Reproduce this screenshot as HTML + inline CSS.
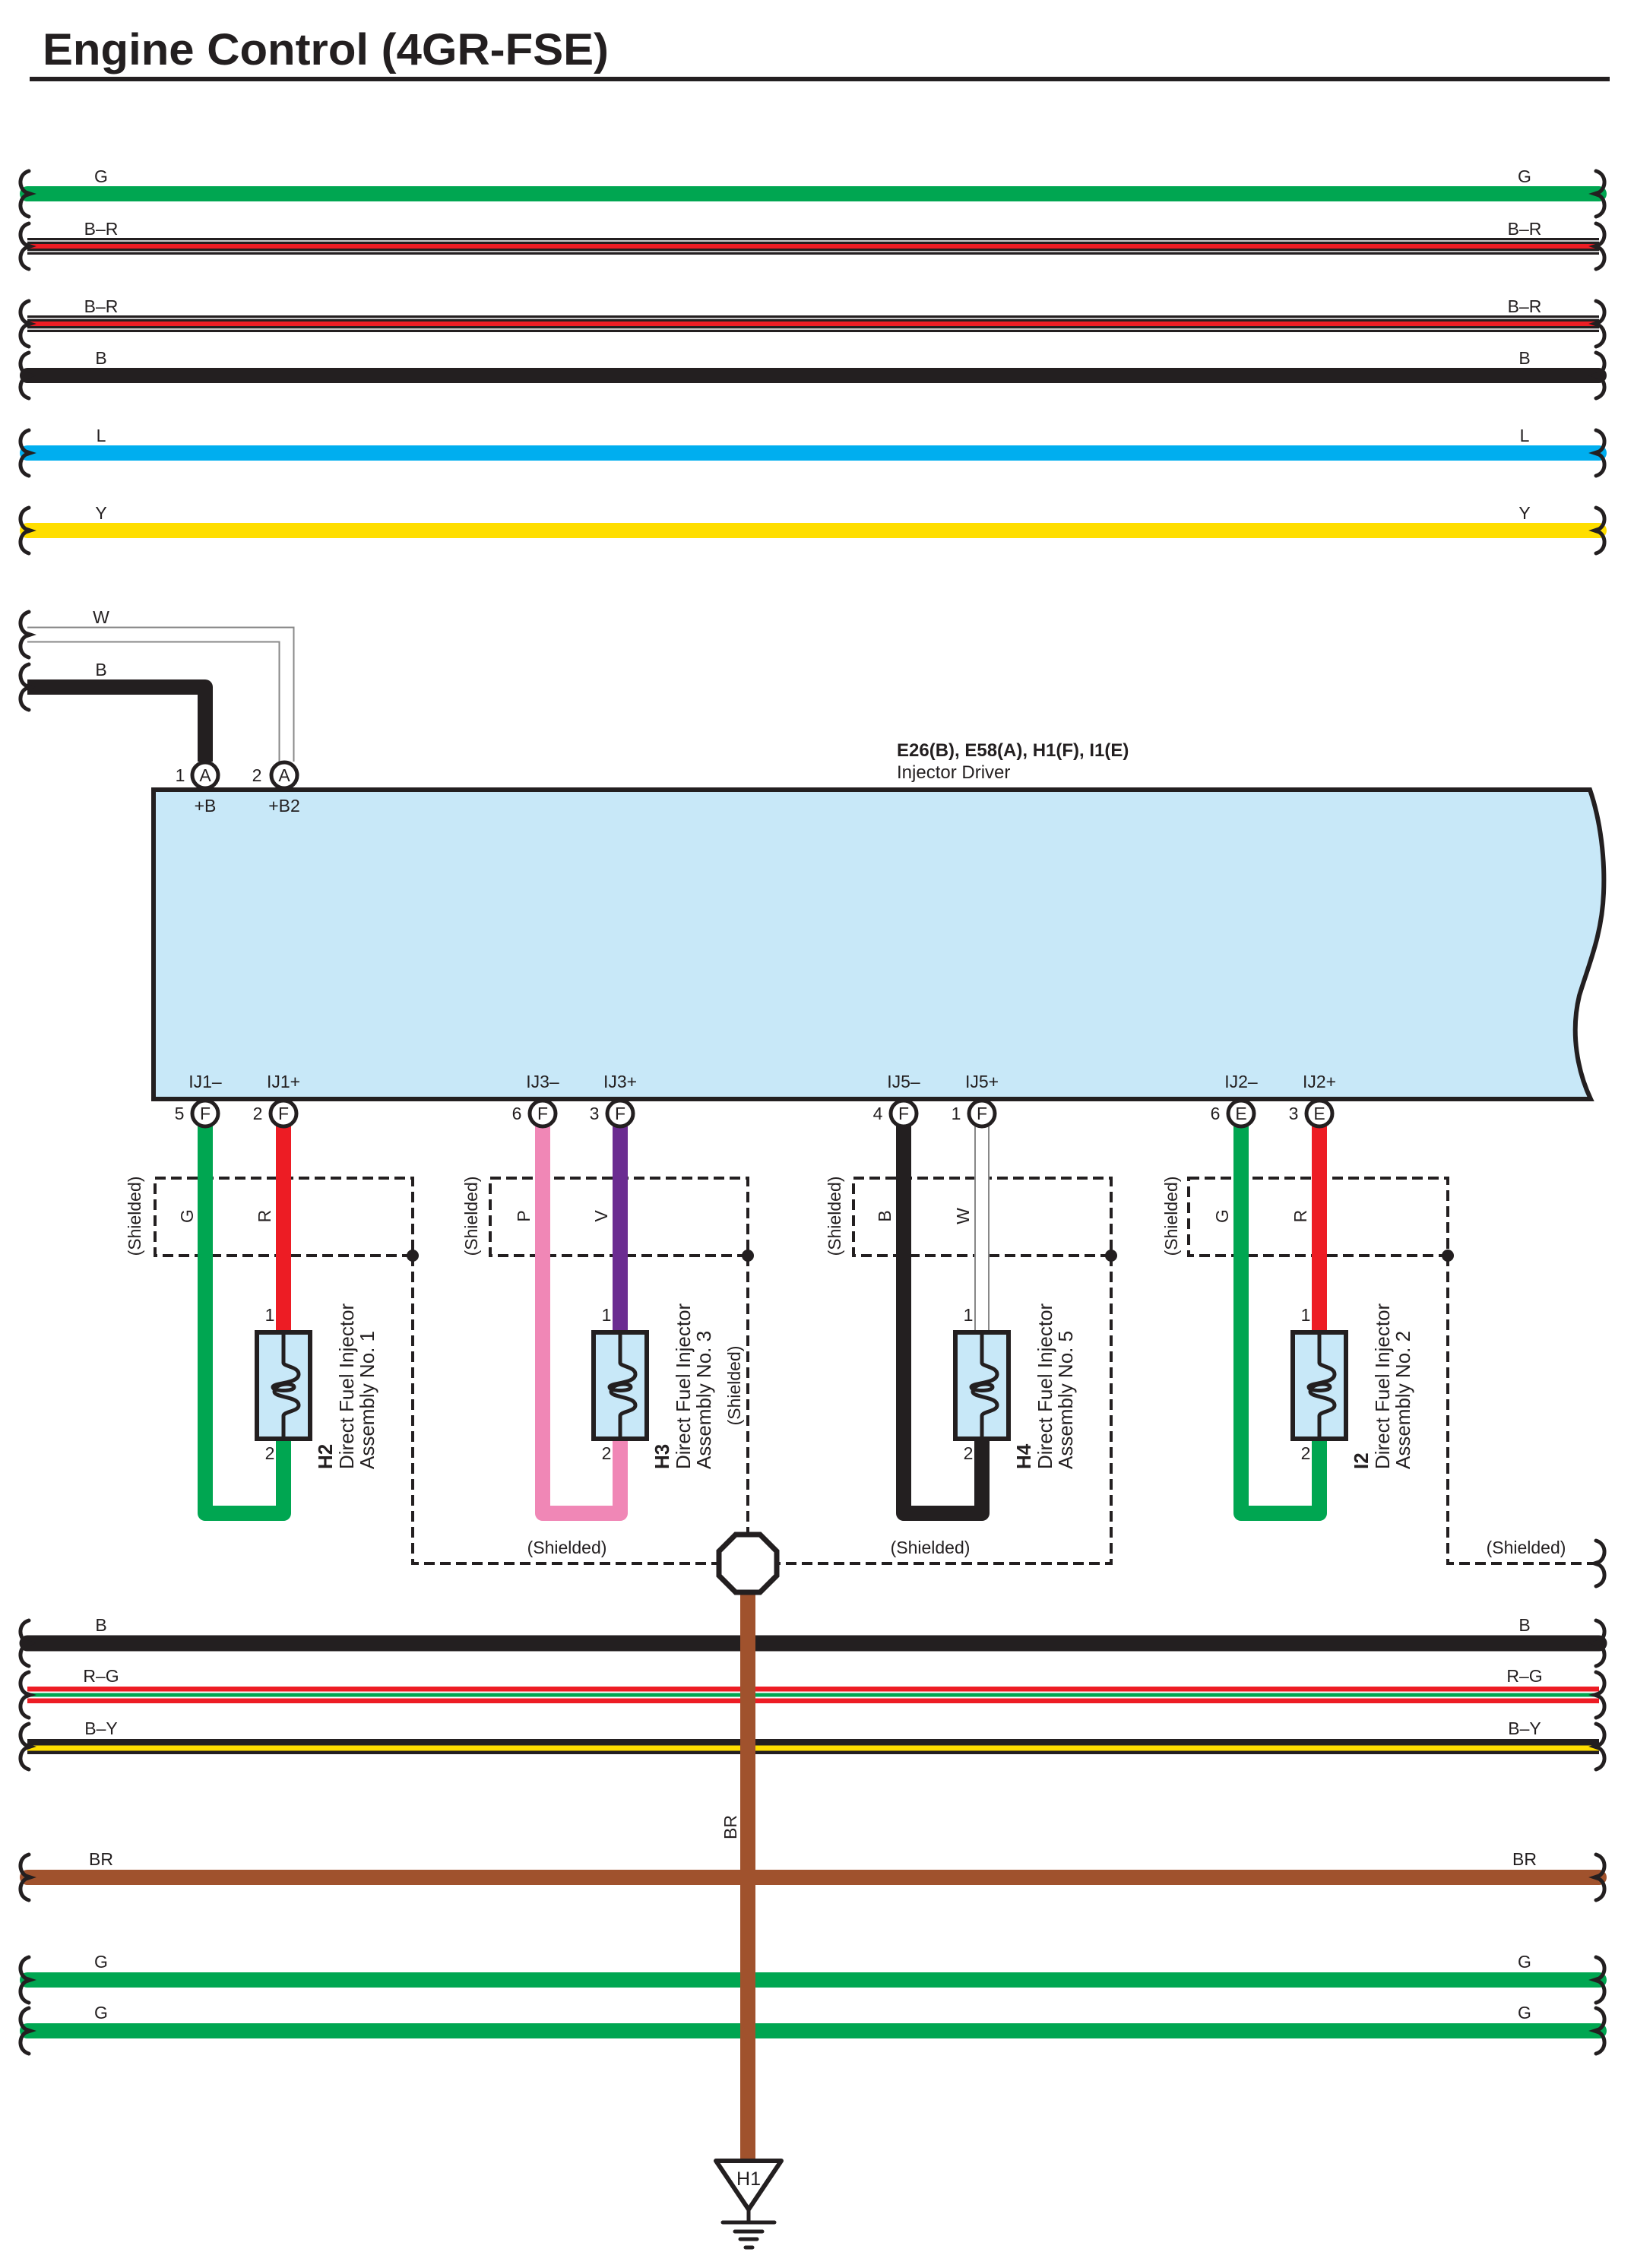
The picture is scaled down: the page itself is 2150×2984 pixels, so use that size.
<!DOCTYPE html>
<html><head><meta charset="utf-8"><style>html,body{margin:0;padding:0;background:#fff}svg{display:block}text{font-family:"Liberation Sans",sans-serif;fill:#231f20}</style></head><body>
<svg xmlns="http://www.w3.org/2000/svg" width="2150" height="2984" viewBox="0 0 2150 2984">
<defs>
<path id="bl" d="M38,-30 C24,-26 24,-8 34,-2 L40,0 L34,2 C24,8 24,26 38,30" fill="none" stroke="#231f20" stroke-width="5" stroke-linecap="round"/>
<path id="br" d="M2100,-30 C2114,-26 2114,-8 2104,-2 L2098,0 L2104,2 C2114,8 2114,26 2100,30" fill="none" stroke="#231f20" stroke-width="5" stroke-linecap="round"/>
<g id="inj">
<rect x="-35" y="0" width="70" height="140" fill="#c8e8f8" stroke="#231f20" stroke-width="6"/>
<path d="M0,0 V40 C0,45 20,45 20,55 C20,68 -14,66 -14,72 C-14,78 14,78 14,72 C14,66 -12,66 -12,78 C-12,86 20,84 20,96 C20,104 0,104 0,110 V140" fill="none" stroke="#231f20" stroke-width="5"/>
</g>
</defs>
<text x="56" y="85" font-size="58" font-weight="bold" textLength="745" lengthAdjust="spacingAndGlyphs">Engine Control (4GR-FSE)</text>
<rect x="39" y="101" width="2079" height="6" fill="#231f20"/>

<!-- top wires -->
<g font-size="23" text-anchor="middle">
<line x1="36" y1="255" x2="2104" y2="255" stroke="#00a651" stroke-width="20" stroke-linecap="round"/>
<text x="133" y="240">G</text><text x="2006" y="240">G</text>
<use href="#bl" y="255"/><use href="#br" y="255"/>

<line x1="36" y1="324" x2="2104" y2="324" stroke="#231f20" stroke-width="22"/>
<line x1="36" y1="317" x2="2104" y2="317" stroke="#fff" stroke-width="1.5"/>
<line x1="36" y1="331" x2="2104" y2="331" stroke="#fff" stroke-width="1.5"/>
<line x1="36" y1="324" x2="2104" y2="324" stroke="#ed1c24" stroke-width="6"/>
<text x="133" y="309">B–R</text><text x="2006" y="309">B–R</text>
<use href="#bl" y="324"/><use href="#br" y="324"/>

<line x1="36" y1="426" x2="2104" y2="426" stroke="#231f20" stroke-width="22"/>
<line x1="36" y1="419" x2="2104" y2="419" stroke="#fff" stroke-width="1.5"/>
<line x1="36" y1="433" x2="2104" y2="433" stroke="#fff" stroke-width="1.5"/>
<line x1="36" y1="426" x2="2104" y2="426" stroke="#ed1c24" stroke-width="6"/>
<text x="133" y="411">B–R</text><text x="2006" y="411">B–R</text>
<use href="#bl" y="426"/><use href="#br" y="426"/>

<line x1="36" y1="494" x2="2104" y2="494" stroke="#231f20" stroke-width="20" stroke-linecap="round"/>
<text x="133" y="479">B</text><text x="2006" y="479">B</text>
<use href="#bl" y="494"/><use href="#br" y="494"/>

<line x1="36" y1="596" x2="2104" y2="596" stroke="#00aeef" stroke-width="20" stroke-linecap="round"/>
<text x="133" y="581">L</text><text x="2006" y="581">L</text>
<use href="#bl" y="596"/><use href="#br" y="596"/>

<line x1="36" y1="698" x2="2104" y2="698" stroke="#ffde00" stroke-width="20" stroke-linecap="round"/>
<text x="133" y="683">Y</text><text x="2006" y="683">Y</text>
<use href="#bl" y="698"/><use href="#br" y="698"/>

<!-- W and B to driver -->
<path d="M36,835 H377 V1002" fill="none" stroke="#888" stroke-width="21"/>
<path d="M36,835 H377 V1002" fill="none" stroke="#fff" stroke-width="17"/>
<text x="133" y="820">W</text>
<use href="#bl" y="835"/>
<path d="M36,904 H270 V1002" fill="none" stroke="#231f20" stroke-width="20" stroke-linejoin="round"/>
<text x="133" y="889">B</text>
<use href="#bl" y="904"/>
</g>

<!-- driver box -->
<path d="M202,1039 H2092 C2106,1080 2112,1130 2110,1175 C2108,1230 2090,1270 2078,1310 C2066,1360 2076,1410 2093,1446 H202 Z" fill="#c8e8f8" stroke="#231f20" stroke-width="6"/>
<text x="1180" y="995" font-size="24" font-weight="bold">E26(B), E58(A), H1(F), I1(E)</text>
<text x="1180" y="1024" font-size="24">Injector Driver</text>

<g font-size="23" text-anchor="middle">
<circle cx="270" cy="1020" r="17" fill="#fff" stroke="#231f20" stroke-width="5"/><text x="270" y="1028">A</text>
<circle cx="374" cy="1020" r="17" fill="#fff" stroke="#231f20" stroke-width="5"/><text x="374" y="1028">A</text>
<text x="237" y="1028">1</text><text x="338" y="1028">2</text>
<text x="270" y="1068">+B</text><text x="374" y="1068">+B2</text>

<!-- IJ labels -->
<text x="270" y="1431">IJ1–</text><text x="373" y="1431">IJ1+</text>
<text x="714" y="1431">IJ3–</text><text x="816" y="1431">IJ3+</text>
<text x="1189" y="1431">IJ5–</text><text x="1292" y="1431">IJ5+</text>
<text x="1633" y="1431">IJ2–</text><text x="1736" y="1431">IJ2+</text>
</g>

<!-- shield dashed -->
<g fill="none" stroke="#231f20" stroke-width="4" stroke-dasharray="14 7">
<rect x="204" y="1550" width="339" height="102"/>
<rect x="645" y="1550" width="339" height="102"/>
<rect x="1123" y="1550" width="339" height="102"/>
<rect x="1564" y="1550" width="341" height="102"/>
<path d="M543,1652 V2057 H950"/>
<path d="M984,1652 V2020"/>
<path d="M1462,1652 V2057 H1020"/>
<path d="M1905,1652 V2057 H2100"/>
</g>
<use href="#br" y="2057"/>
<g fill="#231f20"><circle cx="543" cy="1652" r="8"/><circle cx="984" cy="1652" r="8"/><circle cx="1462" cy="1652" r="8"/><circle cx="1905" cy="1652" r="8"/></g>

<!-- injector wires -->
<g fill="none" stroke-width="20" stroke-linejoin="round" stroke-linecap="round">
<path d="M270,1470 V1991 H373 V1893" stroke="#00a651"/>
<path d="M373,1470 V1753" stroke="#ed1c24" stroke-linecap="butt"/>
<path d="M714,1470 V1991 H816 V1893" stroke="#f087b6"/>
<path d="M816,1470 V1753" stroke="#6b2c91" stroke-linecap="butt"/>
<path d="M1189,1470 V1991 H1292 V1893" stroke="#231f20"/>
<path d="M1633,1470 V1991 H1736 V1893" stroke="#00a651"/>
<path d="M1736,1470 V1753" stroke="#ed1c24" stroke-linecap="butt"/>
</g>
<path d="M1292,1470 V1753" stroke="#888" stroke-width="20" fill="none"/>
<path d="M1292,1470 V1753" stroke="#fff" stroke-width="16" fill="none"/>

<use href="#inj" x="373" y="1753"/>
<use href="#inj" x="816" y="1753"/>
<use href="#inj" x="1292" y="1753"/>
<use href="#inj" x="1736" y="1753"/>

<!-- bottom connectors -->
<g font-size="23" text-anchor="middle">
<g fill="#fff" stroke="#231f20" stroke-width="5">
<circle cx="270" cy="1465" r="17"/><circle cx="373" cy="1465" r="17"/>
<circle cx="714" cy="1465" r="17"/><circle cx="816" cy="1465" r="17"/>
<circle cx="1189" cy="1465" r="17"/><circle cx="1292" cy="1465" r="17"/>
<circle cx="1633" cy="1465" r="17"/><circle cx="1736" cy="1465" r="17"/>
</g>
<text x="270" y="1473">F</text><text x="373" y="1473">F</text>
<text x="714" y="1473">F</text><text x="816" y="1473">F</text>
<text x="1189" y="1473">F</text><text x="1292" y="1473">F</text>
<text x="1633" y="1473">E</text><text x="1736" y="1473">E</text>
<text x="236" y="1473">5</text><text x="339" y="1473">2</text>
<text x="680" y="1473">6</text><text x="782" y="1473">3</text>
<text x="1155" y="1473">4</text><text x="1258" y="1473">1</text>
<text x="1599" y="1473">6</text><text x="1702" y="1473">3</text>
<!-- pin 1/2 at injectors -->
<text x="355" y="1738">1</text><text x="355" y="1920">2</text>
<text x="798" y="1738">1</text><text x="798" y="1920">2</text>
<text x="1274" y="1738">1</text><text x="1274" y="1920">2</text>
<text x="1718" y="1738">1</text><text x="1718" y="1920">2</text>
<text x="746" y="2044">(Shielded)</text>
<text x="1224" y="2044">(Shielded)</text>
<text x="2008" y="2044">(Shielded)</text>
</g>

<!-- rotated labels -->
<g font-size="23" text-anchor="middle">
<text transform="translate(185,1600) rotate(-90)">(Shielded)</text>
<text transform="translate(628,1600) rotate(-90)">(Shielded)</text>
<text transform="translate(1106,1600) rotate(-90)">(Shielded)</text>
<text transform="translate(1549,1600) rotate(-90)">(Shielded)</text>
<text transform="translate(254,1600) rotate(-90)">G</text>
<text transform="translate(356,1600) rotate(-90)">R</text>
<text transform="translate(697,1600) rotate(-90)">P</text>
<text transform="translate(799,1600) rotate(-90)">V</text>
<text transform="translate(1172,1600) rotate(-90)">B</text>
<text transform="translate(1275,1600) rotate(-90)">W</text>
<text transform="translate(1616,1600) rotate(-90)">G</text>
<text transform="translate(1719,1600) rotate(-90)">R</text>
<text transform="translate(974,1823) rotate(-90)">(Shielded)</text>
<text transform="translate(969,2404) rotate(-90)">BR</text>
</g>
<g font-size="26">
<g transform="translate(437,1933) rotate(-90)"><text x="0" y="0" font-weight="bold">H2</text><text x="0" y="28">Direct Fuel Injector</text><text x="0" y="55">Assembly No.  1</text></g>
<g transform="translate(880,1933) rotate(-90)"><text x="0" y="0" font-weight="bold">H3</text><text x="0" y="28">Direct Fuel Injector</text><text x="0" y="55">Assembly No.  3</text></g>
<g transform="translate(1356,1933) rotate(-90)"><text x="0" y="0" font-weight="bold">H4</text><text x="0" y="28">Direct Fuel Injector</text><text x="0" y="55">Assembly No.  5</text></g>
<g transform="translate(1800,1933) rotate(-90)"><text x="0" y="0" font-weight="bold">I2</text><text x="0" y="28">Direct Fuel Injector</text><text x="0" y="55">Assembly No.  2</text></g>
</g>

<!-- bottom wires -->
<g font-size="23" text-anchor="middle">
<line x1="36" y1="2162" x2="2104" y2="2162" stroke="#231f20" stroke-width="21" stroke-linecap="round"/>
<text x="133" y="2146">B</text><text x="2006" y="2146">B</text>
<use href="#bl" y="2162"/><use href="#br" y="2162"/>

<line x1="36" y1="2230" x2="2104" y2="2230" stroke="#ed1c24" stroke-width="22"/>
<line x1="36" y1="2230" x2="2104" y2="2230" stroke="#fff" stroke-width="9"/>
<line x1="36" y1="2230" x2="2104" y2="2230" stroke="#00a651" stroke-width="5"/>
<text x="133" y="2213">R–G</text><text x="2006" y="2213">R–G</text>
<use href="#bl" y="2230"/><use href="#br" y="2230"/>

<line x1="36" y1="2298" x2="2104" y2="2298" stroke="#231f20" stroke-width="20"/>
<line x1="36" y1="2300" x2="2104" y2="2300" stroke="#ffde00" stroke-width="7"/>
<text x="133" y="2282">B–Y</text><text x="2006" y="2282">B–Y</text>
<use href="#bl" y="2298"/><use href="#br" y="2298"/>

<line x1="36" y1="2470" x2="2104" y2="2470" stroke="#a0522d" stroke-width="20" stroke-linecap="round"/>
<text x="133" y="2454">BR</text><text x="2006" y="2454">BR</text>
<use href="#bl" y="2470"/><use href="#br" y="2470"/>

<line x1="36" y1="2605" x2="2104" y2="2605" stroke="#00a651" stroke-width="20" stroke-linecap="round"/>
<text x="133" y="2589">G</text><text x="2006" y="2589">G</text>
<use href="#bl" y="2605"/><use href="#br" y="2605"/>

<line x1="36" y1="2672" x2="2104" y2="2672" stroke="#00a651" stroke-width="20" stroke-linecap="round"/>
<text x="133" y="2656">G</text><text x="2006" y="2656">G</text>
<use href="#bl" y="2672"/><use href="#br" y="2672"/>
</g>

<!-- BR vertical to ground -->
<line x1="984" y1="2080" x2="984" y2="2845" stroke="#a0522d" stroke-width="20"/>
<polygon points="968,2019 1000,2019 1022,2041 1022,2073 1000,2095 968,2095 946,2073 946,2041" fill="#fff" stroke="#231f20" stroke-width="7"/>

<!-- ground -->
<polygon points="942,2843 1028,2843 985,2907" fill="#fff" stroke="#231f20" stroke-width="6" stroke-linejoin="round"/>
<text x="985" y="2875" font-size="25" text-anchor="middle">H1</text>
<g stroke="#231f20" stroke-width="5" stroke-linecap="round">
<line x1="985" y1="2907" x2="985" y2="2924"/>
<line x1="951" y1="2924" x2="1019" y2="2924"/>
<line x1="967" y1="2936" x2="1003" y2="2936"/>
<line x1="974" y1="2946" x2="996" y2="2946"/>
<line x1="981" y1="2957" x2="990" y2="2957"/>
</g>
</svg>
</body></html>
